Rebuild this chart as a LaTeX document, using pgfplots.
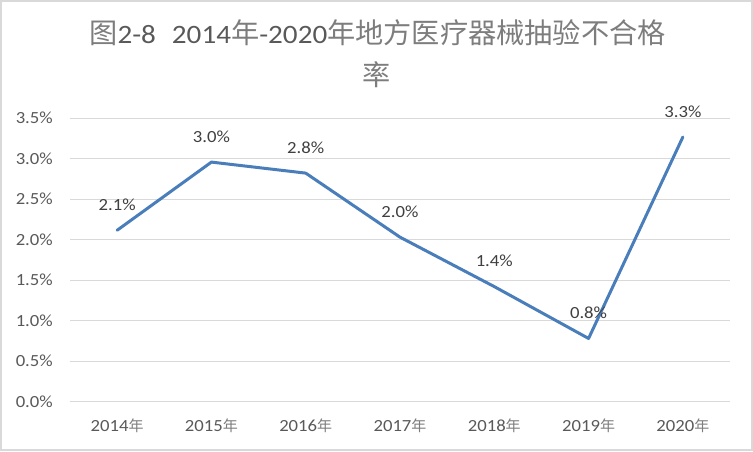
\documentclass[border=0pt]{standalone}
\usepackage{fontspec}
\setmainfont{Carlito}[FakeStretch=1.1]
\newfontfamily\cjk{Noto Sans CJK SC}
\usepackage{pgfplots}
\pgfplotsset{compat=1.18}
\definecolor{linec}{RGB}{74,126,187}
\definecolor{tickc}{RGB}{89,89,89}
\definecolor{labc}{RGB}{64,64,64}
\definecolor{gridc}{RGB}{217,217,217}
\definecolor{cjkc}{RGB}{125,125,125}
\newcommand{\nian}{{\fontsize{15}{18}\selectfont\cjk\color{cjkc}年}}
\newcommand{\tc}[1]{{\fontsize{28.2}{30}\selectfont\cjk\color{cjkc}#1}}
\begin{document}
\begin{tikzpicture}[x=1pt,y=1pt]
\useasboundingbox (0,0) rectangle (753,451);
\draw[gridc, line width=1.5pt] (1,1) rectangle (752,450);
\begin{axis}[
 at={(70pt,49.3pt)}, anchor=south west,
 width=660pt, height=283.7pt, scale only axis,
 xmin=-0.5, xmax=6.5, ymin=0, ymax=3.5,
 axis line style={draw=none},
 major tick length=0pt,
 xtick={0,1,2,3,4,5,6},
 xticklabels={2014\nian,2015\nian,2016\nian,2017\nian,2018\nian,2019\nian,2020\nian},
 ytick={0,0.5,1,1.5,2,2.5,3,3.5},
 yticklabels={0.0\%,0.5\%,1.0\%,1.5\%,2.0\%,2.5\%,3.0\%,3.5\%},
 ymajorgrids, grid style={gridc, line width=1pt},
 tick label style={font=\fontsize{17}{20}\selectfont, text=tickc},
 xticklabel style={anchor=base, yshift=-29.3pt, inner sep=0pt},
 yticklabel style={anchor=east, xshift=-17pt, inner sep=0pt},
 clip=false,
]
\addplot[linec, line width=3pt, line join=round, line cap=round, mark=none,
 nodes near coords, point meta=explicit symbolic,
 nodes near coords style={anchor=center, yshift=25.5pt, inner sep=0pt, font=\fontsize{17}{20}\selectfont, text=labc}]
 coordinates {(0,2.115)[2.1\%] (1,2.956)[3.0\%] (2,2.82)[2.8\%] (3,2.03)[2.0\%] (4,1.42)[1.4\%] (5,0.78)[0.8\%] (6,3.265)[3.3\%]};
\end{axis}
\node[anchor=base, text=tickc, font=\fontsize{26.5}{30}\selectfont, inner sep=0pt] at (377.5,407) {\tc{图}2-8\hspace{16pt}2014\tc{年}-2020\tc{年地方医疗器械抽验不合格}};
\node[anchor=base, inner sep=0pt] at (377,365.7) {\tc{率}};
\end{tikzpicture}
\end{document}
